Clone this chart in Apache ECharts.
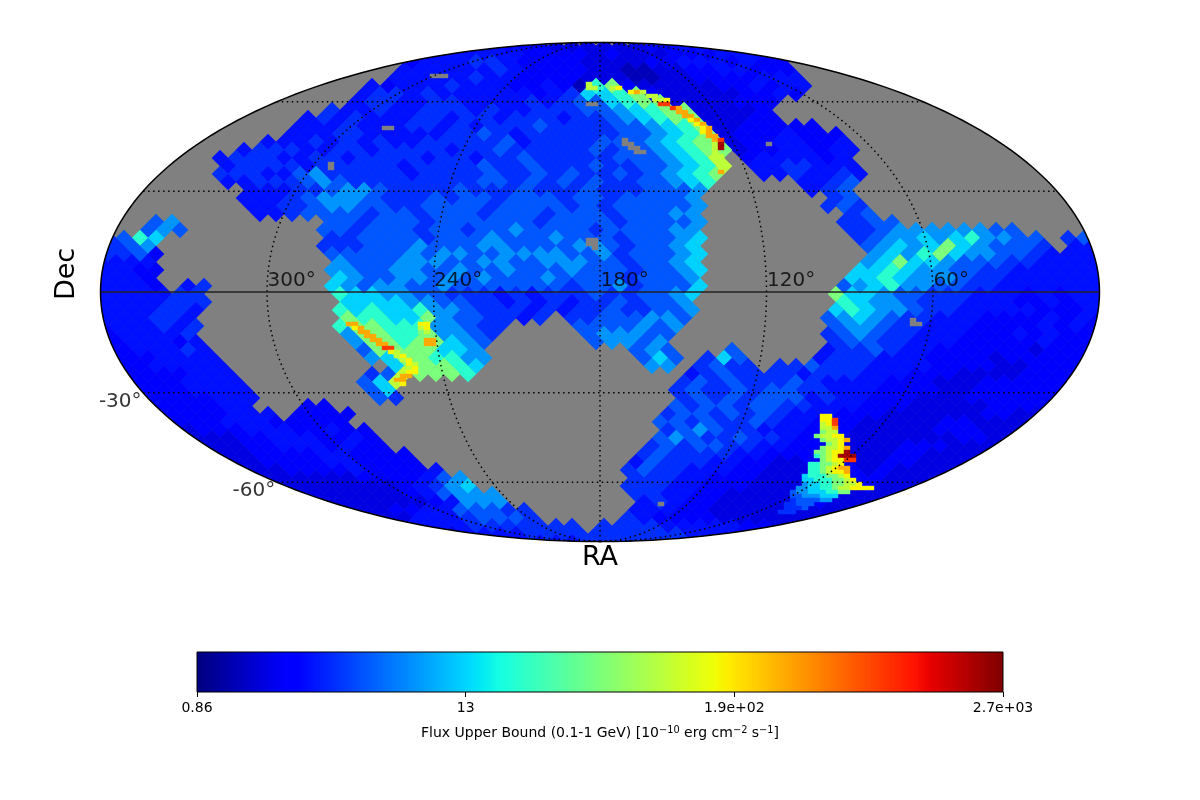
<!DOCTYPE html>
<html><head><meta charset="utf-8">
<style>html,body{margin:0;padding:0;background:#fff}#c{width:1200px;height:800px}</style>
<script src="https://cdn.jsdelivr.net/npm/echarts@6/dist/echarts.min.js"></script>
</head><body><div id="c"></div>
<script>
// flux value for each code letter used in the map rows
const levelCodes = "0123456789ABCDE";
const levelFlux = [1.3,1.7,2.17,2.65,3.38,4.66,7.56,12.3,21.5,48,92,161,307,806,2120];
const fluxMin = 0.86, fluxMax = 2700;
const barTickLabels = ["0.86","13","1.9e+02","2.7e+03"];
const raTicks = [300,240,180,120,60];
const decTicks = [-30,-60];
const meridianOffsets = [-120,-60,0,60,120];
const parallels = [-60,-30,30,60];
// HEALPix-like staggered cells. One string per row, "column:codes"
const coarseRows = [
"18:3333333222111111223333222",
"18:33333333222212111222333222",
"19:233344322221111223332322",
"18:3333334322221100112233222",
"18:33333433222211100112222333",
"16:3233343332232089211111223233",
"16:3443433333323477892111112232",
"15:344334433334345578991111222",
"14:4334334443433444556789911112",
"12:343433344344344434456789911122",
"12:333433344343444544445567891122222",
"11:33344333334454344444455678912223222",
"10:3334343433444445344445556789912233223",
"8:344433443444434454444454556789912233233",
"7:3444334434444344344544444555678A 40:2333323",
"7:3444434444434444544544454455678A 40:3344333",
"7:44433564444434444544545445456789 41:3343343",
"7:3344456544444444554545454455678 43:3345",
"9:33344566544445444544454445556 44:345",
"8:33345666544454554555455455556 45:45",
"9:33445665544555545555454555556 45:454",
"9:3345 13:555455455545554555455566 46:45",
"3:56 14:554555455555545555455556 46:445 49:5",
"2:565 13:554555455455655554555566 46:44566666655",
"0:4587 14:445555455565556555455567 47:456676786655 60:4555",
"-1:3456 13:444555655566555566545567 47:567679765554 60:3333",
"-1:34452 14:555556566556666556455567 48:676897665543333",
"-1:3333 14:65556665566556665545567 47:6797765554433333",
"-1:33322 14:665566556556555655545567 47:7787665544333333",
"-1:3332 14:76556656565556555545556 46:77876665443333333",
"-1:33332 5:34 14:765665565555555455645557 46:56786655443333333",
"-1:3333344 14:87766554443434445445567 45:977655444333232333",
"-1:33333444 15:7777665544343434454556 46:87665444333223233",
"-1:3333443 14:87877866544434344544556 45:7876654433333222323",
"-1:3333443 15:9887796554434 29:44555665 45:567654433322223232",
"-1:3333434 14:89988866544 29:5555656 45:566544333222232322",
"-1:3233334 15:6998896654 30:566655 45:456544333222323222",
"-1:2233323 15:699899765 30:56656 45:455443332222232222",
"-1:22233343 16:59999776 33:565 39:5 45:344543322222212222",
"-1:22223333 16:67998866 33:575 37:475 44:3444333222212222222",
"-1:222233333 18:799987 34:66 37:4544 42:44544433332222112222",
"-1:112222333 16:45A9998 36:34544443444333222111122222",
"-1:1122223333 16:57A 36:454544454333322211122222222",
"-1:1122223333 16:57 35:454454554433322221122222222",
"0:1122222333 17:54 36:4545455534332221112222222",
"0:111222233 12:22 35:54554554433322211111222222",
"1:1112222333 12:2222 35:45545454333222111111221111",
"1:11122233322222 34:55454454332221111122111111",
"2:111122233322322 35:4565443332221111122211111",
"3:11111223332232 34:56544544322211111112211111",
"4:11111223332322 34:454554433221111122211111",
"4:111112222332222 33:45444433222111112211111",
"5:111112222332222 33:354443322112111122111111",
"6:111112222322223 32:45443332211111212111111",
"8:111111112222356 33:444332221111112211111",
"9:11111111123467 32:444332221111111211111",
"11:11111111235666 33:4433221111112111111",
"12:1111111123666 33:34322111112211111",
"15:111223355544 33:3332211111111111",
"16:11133345554 32:432222111111111",
"17:1133334444444 31:44443333322111111",
"20:1133334444444444 36:33322222",
"24:33333344444444444433"
];
// finer cells for the thin hot features and small holes: "row|column:codes"
const fineRows = [
"8|55:...",
"10|81:A","11|81:AA8 85:AB","12|88:BCA","13|91:AA","14|92:AAB","15|81:.. 93:DD","16|95:DC","17|96:CC","18|97:CC",
"19|98:BC","20|99:BC","21|47:.. 100:BC","22|100:BC","23|101:CC","24|87:. 102:CD","25|87:.. 102:AE 111:.","26|88:.. 102:AE",
"27|89:.. 102:A","28|103:A","29|103:A","30|38:. 103:A","31|38:. 103:A","32|103:C",
"49|81:..","50|81:..","51|82:.",
"69|135:.","70|41:CC 53:BB 135:..","71|42:BC 53:AB","72|43:CC 53:9A","73|44:CC","74|45:CC 54:CC","75|46:CC 54:CC","76|47:DD","77|48:BA","78|49:AB","79|50:AB","80|51:BA","81|51:AB","82|51:BB","83|50:CC","84|49:CC","85|49:AB",
"93|120:BB","94|120:BBD","95|120:ABD","96|120:AAC","97|120:9AA","98|119:9AABB","99|120:9AABC","100|121:9AB","101|120:9AABC",
"102|119:99ABBE","103|119:89ABEEE","104|120:9ABBDD","105|118:8899AB","106|118:889ABCC","107|118:889ABBC","108|117:788899AB",
"109|117:7788899AB","110|117:6778899AAB","111|116:6677889AABBBB","112|115:5667778899","113|115:55666777","114|115:4555566","115|93:. 114:44555","116|114:4445","117|113:444"
];

function parseRows(list, fine){
  const out=[];
  list.forEach((line,i)=>{
    let row=i, body=line;
    if(fine){const p=line.split('|');row=+p[0];body=p[1];}
    body.split(' ').forEach(seg=>{
      const s=seg.split(':'); const start=+s[0];
      [...s[1]].forEach((ch,k)=>{
        const col=start+k;
        let X,Y;
        if(fine){X=col*6+3-500;Y=250-(row*4+2);}
        else{X=col*16+8+(row%2?8:0)-500;Y=250-(row*8+4);}
        const flux=ch==='.'?-1:levelFlux[levelCodes.indexOf(ch)];
        out.push([X,Y,flux]);
      });
    });
  });
  return out;
}
function jet(f){
  const c=t=>Math.round(255*Math.max(0,Math.min(1,t)));
  let r,g,b;
  r= f<.35?0: f<.66?(f-.35)/.31: f<.89?1: 1-(f-.89)/.11*.5;
  g= f<.125?0: f<.375?(f-.125)/.25: f<.64?1: f<.91?1-(f-.64)/.27:0;
  b= f<.11?.5+f/.11*.5: f<.34?1: f<.65?1-(f-.34)/.31:0;
  return `rgb(${c(r)},${c(g)},${c(b)})`;
}
const fluxColor=v=>v<0?'#808080':jet(Math.log(v/fluxMin)/Math.log(fluxMax/fluxMin));
// Mollweide projection scaled to the map frame
function moll(lonDeg,latDeg){
  const lat=latDeg*Math.PI/180; let t=lat;
  for(let i=0;i<60;i++){const d=2*t+Math.sin(2*t)-Math.PI*Math.sin(lat);const den=2+2*Math.cos(2*t);if(Math.abs(den)<1e-9)break;t-=d/den;}
  return [499.5*(lonDeg/180)*Math.cos(t),249.5*Math.sin(t)];
}
function steps(a,b,n){const r=[];for(let i=0;i<=n;i++)r.push(a+(b-a)*i/n);return r;}
const ellipse=steps(0,2*Math.PI,240).map(t=>[499.5*Math.cos(t),249.5*Math.sin(t)]);
const cellRender=(hw,hh)=>(p,api)=>{
  const x=api.value(0),y=api.value(1);
  const pts=[[x-hw,y],[x,y+hh],[x+hw,y],[x,y-hh]].map(q=>api.coord(q));
  return {type:'polygon',shape:{points:pts},style:{fill:fluxColor(api.value(2))},silent:true};
};
const rectRender=(hw,hh)=>(p,api)=>{
  const x=api.value(0),y=api.value(1);
  const pts=[[x-hw,y+hh],[x+hw,y+hh],[x+hw,y-hh],[x-hw,y-hh]].map(q=>api.coord(q));
  return {type:'polygon',shape:{points:pts},style:{fill:fluxColor(api.value(2))},silent:true};
};
const common={xAxisIndex:0,yAxisIndex:0,animation:false,silent:true};
const series=[
 {...common,type:'custom',z:1,data:[[0,0]],renderItem:(p,api)=>({type:'polygon',shape:{points:ellipse.map(q=>api.coord(q))},style:{fill:'#808080'}})},
 {...common,type:'custom',z:2,data:parseRows(coarseRows,false),renderItem:cellRender(8.3,8.3),progressive:0},
 {...common,type:'custom',z:3,data:parseRows(fineRows,true),renderItem:rectRender(3.2,2.2),progressive:0},
 {...common,type:'custom',z:4,data:[[0,0]],renderItem:(p,api)=>{
    const outer=[[-560,262],[560,262],[560,-262],[-560,-262],[-560,262],[499.5,0]];
    const inner=ellipse;
    return {type:'polygon',shape:{points:outer.concat(inner).concat([[-560,262]]).map(q=>api.coord(q))},style:{fill:'#fff'}};
 }}
];
meridianOffsets.forEach(lon=>series.push({...common,type:'line',z:5,showSymbol:false,clip:false,
  data:steps(-90,90,120).map(l=>moll(lon,l)),lineStyle:{color:'#000',width:1.5,type:[1.5,3.5]}}));
parallels.forEach(lat=>series.push({...common,type:'line',z:5,showSymbol:false,clip:false,
  data:steps(-180,180,2).map(l=>moll(l,lat)),lineStyle:{color:'#000',width:1.5,type:[1.5,3.5]}}));
series.push({...common,type:'line',z:6,showSymbol:false,clip:false,data:[[-499.5,0],[499.5,0]],lineStyle:{color:'#222',width:1.6}});
series.push({...common,type:'line',z:6,showSymbol:false,clip:false,data:ellipse,lineStyle:{color:'#000',width:1.5}});
series.push({...common,type:'scatter',z:7,symbolSize:1,itemStyle:{color:'transparent'},clip:false,
  data:raTicks.map(t=>[...moll(180-t,0),t+'°']),
  label:{show:true,position:'right',distance:0,offset:[0,-11],formatter:p=>p.value[2],fontFamily:'DejaVu Sans',fontSize:20,color:'#000'}});
series.push({...common,type:'scatter',z:7,symbolSize:1,itemStyle:{color:'transparent'},clip:false,
  data:decTicks.map(t=>[...moll(-180,t),t+'°']),
  label:{show:true,position:'left',distance:1,offset:[0,9],formatter:p=>p.value[2],fontFamily:'DejaVu Sans',fontSize:20,color:'#000'}});
// colour bar
const barSamples=steps(0,3,256).slice(0,256);
series.push({type:'custom',xAxisIndex:1,yAxisIndex:1,animation:false,silent:true,z:2,data:barSamples.map(v=>[v]),
  renderItem:(p,api)=>{const v=api.value(0);const a=api.coord([v,1]),b=api.coord([Math.min(3,v+3/256),0]);
    return {type:'rect',shape:{x:a[0],y:a[1],width:Math.min(b[0]-a[0]+1,1003-a[0]),height:b[1]-a[1]},style:{fill:jet((v+1.5/256)/3)}};}});
const chart=echarts.init(document.getElementById('c'),null,{renderer:'canvas'});
chart.setOption({
 animation:false,backgroundColor:'#fff',
 grid:[{left:100,width:1000,top:42,height:500,show:false},
       {left:197,width:806,top:652,height:40,show:true,borderColor:'#000',borderWidth:1,backgroundColor:'transparent',z:9}],
 xAxis:[
  {gridIndex:0,type:'value',min:-500,max:500,z:10,axisLine:{show:false},axisTick:{show:false},axisLabel:{show:false},splitLine:{show:false},
   name:'RA',nameLocation:'middle',nameGap:2,nameTextStyle:{fontFamily:'DejaVu Sans',fontSize:27,color:'#000',verticalAlign:'top'}},
  {gridIndex:1,type:'value',min:0,max:3,interval:1,z:10,axisLine:{show:false},splitLine:{show:false},
   axisTick:{show:true,length:5,lineStyle:{color:'#000'}},
   axisLabel:{show:true,fontFamily:'DejaVu Sans',fontSize:14,color:'#000',margin:9,formatter:v=>barTickLabels[Math.round(v)]},
   name:'{t|Flux Upper Bound (0.1-1 GeV) [10}{s|−10}{t| erg cm}{s|−2}{t| s}{s|−1}{t|]}',nameLocation:'middle',nameGap:33,
   nameTextStyle:{rich:{t:{fontFamily:'DejaVu Sans',fontSize:14,color:'#000'},s:{fontFamily:'DejaVu Sans',fontSize:9.8,color:'#000',verticalAlign:'top',lineHeight:17}}}}
 ],
 yAxis:[
  {gridIndex:0,type:'value',min:-250,max:250,z:10,axisLine:{show:false},axisTick:{show:false},axisLabel:{show:false},splitLine:{show:false},
   name:'Dec',nameLocation:'middle',nameRotate:90,nameGap:20,nameTextStyle:{fontFamily:'DejaVu Sans',fontSize:27,color:'#000',padding:[0,0,0,36]}},
  {gridIndex:1,type:'value',min:0,max:1,show:false}
 ],
 series
});
</script></body></html>
